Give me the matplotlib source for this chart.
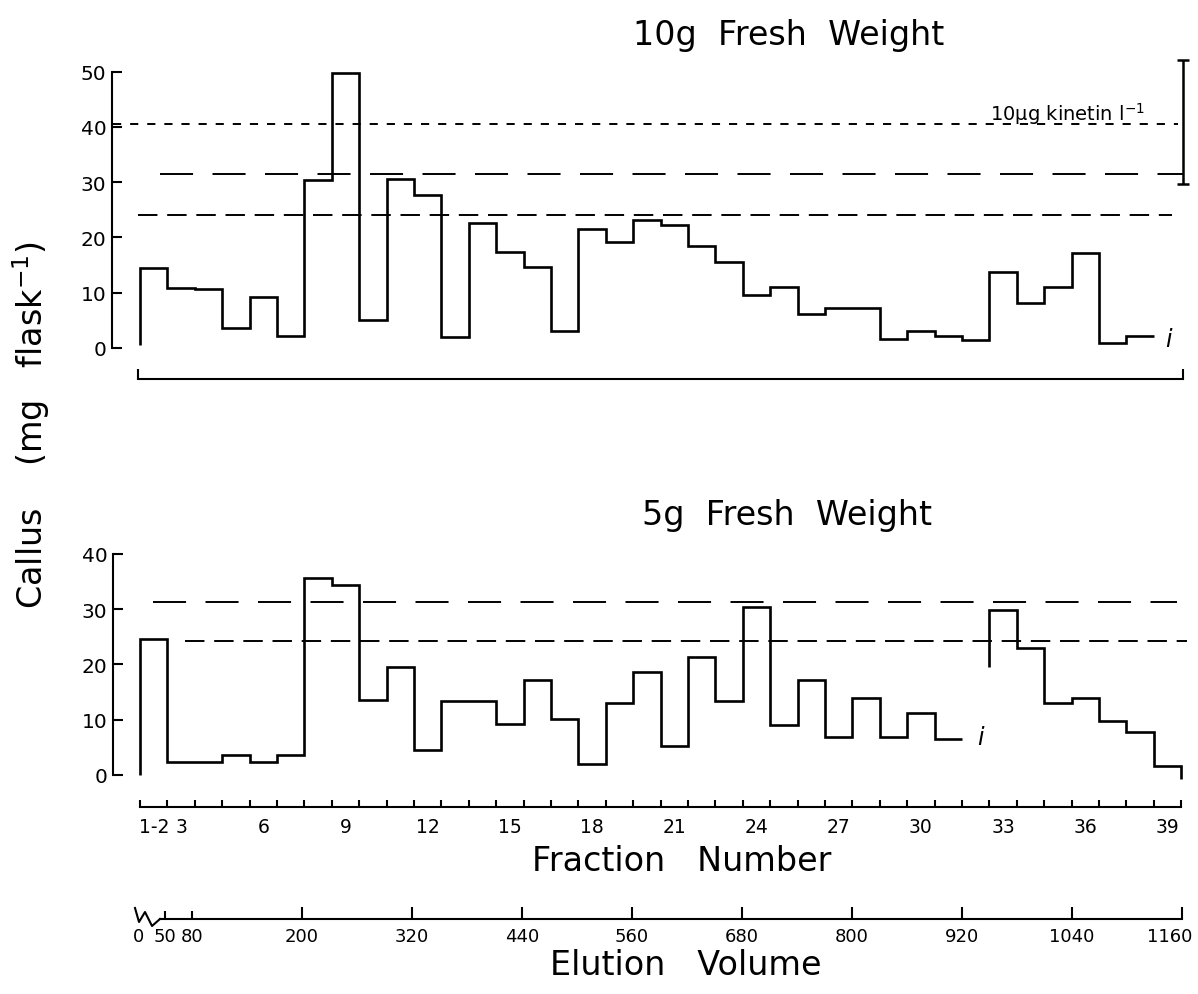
import matplotlib
matplotlib.use("Agg")
import matplotlib.pyplot as plt
import numpy as np
from matplotlib.ticker import FixedLocator, FixedFormatter, NullFormatter
from matplotlib.transforms import ScaledTranslation

# fractions off the column: 1 and 2 pooled, then 3 ... 39
fractions = ["1-2"] + [str(n) for n in range(3, 40)]
fraction_ticklabels = ["1-2", "3", "6", "9", "12", "15", "18", "21",
                       "24", "27", "30", "33", "36", "39"]

# callus yield (mg flask-1) per fraction, None = not plotted
callus_10g = [14.4, 10.9, 10.7, 3.7, 9.3, 2.2, 30.3, 49.7, 5.1, 30.6,
              27.7, 1.9, 22.6, 17.4, 14.6, 3.1, 21.5, 19.2, 23.2, 22.2,
              18.4, 15.6, 9.5, 11.1, 6.1, 7.2, 7.2, 1.6, 3.0, 2.1,
              1.4, 13.8, 8.1, 11.0, 17.1, 0.9, 2.2, None]
callus_5g = [24.6, 2.3, 2.3, 3.7, 2.3, 3.6, 35.7, 34.4, 13.6, 19.6,
             4.6, 13.4, 13.4, 9.3, 17.2, 10.2, 1.9, 13.1, 18.6, 5.2,
             21.3, 13.4, 30.4, 9.0, 17.1, 6.8, 13.9, 6.9, 11.2, 6.6,
             None, 29.9, 22.9, 13.0, 13.9, 9.7, 7.7, 1.7]

# where each run of the histogram starts from / drops to
run_start_10g = [0.5]
run_stop_10g = [None]
run_start_5g = [0.0, 19.5]
run_stop_5g = [None, -0.8]

# reference levels
kinetin_10g = 40.5
kinetin_sd = (40.85, 11.15)
control_long_10g = 31.5
control_short_10g = 24.0
control_long_5g = 31.2
control_short_5g = 24.3

elution_major = [200, 320, 440, 560, 680, 800, 920, 1040, 1160]
elution_minor = [50, 80]

# ---- layout (pixels of the 1198x995 picture) ----
W, H = 1198, 995
BIN0, BINW = 140.0, 27.4      # left edge of fraction "1-2", width of one fraction
MGPX = 5.53                   # pixels per mg
ZERO_TOP, ZERO_BOT = 349, 776
VOL0, VOLPX = 118.7, 0.9167   # elution volume -> pixel
FONT = "DejaVu Sans"
BIG = 24
LW = 1.9

fig = plt.figure(figsize=(W / 100, H / 100), dpi=100)


def add_ax(x0, y0, x1, y1):
    return fig.add_axes([x0 / W, 1 - y1 / H, (x1 - x0) / W, (y1 - y0) / H])


def u(px):
    return (px - BIN0) / BINW


def vol(px):
    return (px - VOL0) / VOLPX


def draw_runs(ax, values, starts, stops):
    runs, a = [], None
    for i, v in enumerate(values + [None]):
        if v is not None and a is None:
            a = i
        elif v is None and a is not None:
            runs.append((a, i))
            a = None
    for (a, b), s0, s1 in zip(runs, starts, stops):
        vals = np.array(values[a:b], dtype=float)
        edges = np.arange(a, b + 1)
        xs = np.concatenate([[a], np.repeat(edges, 2)[1:-1]])
        ys = np.concatenate([[s0], np.repeat(vals, 2)])
        if s1 is not None:
            xs = np.append(xs, b)
            ys = np.append(ys, s1)
        ax.plot(xs, ys, color="black", lw=LW, solid_joinstyle="miter",
                solid_capstyle="butt")


def style_left(ax, spine_px, top):
    for s in ("top", "right"):
        ax.spines[s].set_visible(False)
    ax.spines["left"].set_position(("data", u(spine_px)))
    ax.spines["left"].set_bounds(0, top)
    ax.spines["left"].set_linewidth(1.5)
    ax.set_yticks(np.arange(0, top + 1, 10))
    ax.tick_params(axis="y", direction="in", length=7, width=1.5,
                   labelsize=14.5, pad=4)


def hline(ax, y, px0, px1, dashes):
    ax.plot([u(px0), u(px1)], [y, y], color="black", lw=1.4,
            dashes=dashes, dash_capstyle="butt")


# ---- 10 g fresh weight ----
ax1 = add_ax(100, 55, 1195, 395)
ax1.set_xlim(u(100), u(1195))
ax1.set_ylim((ZERO_TOP - 395) / MGPX, (ZERO_TOP - 55) / MGPX)
style_left(ax1, 112, 50)
ax1.spines["bottom"].set_position(("data", (ZERO_TOP - 380) / MGPX))
ax1.spines["bottom"].set_bounds(u(138), u(1183))
ax1.spines["bottom"].set_linewidth(1.5)
ax1.set_xticks([u(138), u(1183)])
ax1.xaxis.set_major_formatter(NullFormatter())
ax1.tick_params(axis="x", direction="in", length=7, width=1.5)

draw_runs(ax1, callus_10g, run_start_10g, run_stop_10g)
hline(ax1, kinetin_10g, 113, 1178, (4.2, 4.6))
hline(ax1, control_long_10g, 160, 1183, (17, 10))
hline(ax1, control_short_10g, 138, 1172, (10, 5))
ax1.errorbar([u(1183)], [kinetin_sd[0]], yerr=[kinetin_sd[1]], color="black",
             elinewidth=1.8, capsize=4, capthick=1.8, fmt="none")
ax1.text(u(990), (ZERO_TOP - 121) / MGPX, "10µg kinetin l$^{-1}$",
         fontsize=14, family=FONT, ha="left", va="baseline")
ax1.text(u(1168), 1.6, "i", fontsize=17, style="italic", ha="center",
         va="center", family=FONT)

# ---- 5 g fresh weight ----
ax2 = add_ax(100, 540, 1195, 815)
ax2.set_xlim(u(100), u(1195))
ax2.set_ylim((ZERO_BOT - 815) / MGPX, (ZERO_BOT - 540) / MGPX)
style_left(ax2, 113, 40)
ax2.spines["bottom"].set_position(("data", (ZERO_BOT - 808) / MGPX))
ax2.spines["bottom"].set_bounds(0, len(fractions))
ax2.spines["bottom"].set_linewidth(1.5)
ax2.xaxis.set_minor_locator(FixedLocator(np.arange(len(fractions) + 1)))
ax2.xaxis.set_major_locator(
    FixedLocator([fractions.index(t) + 0.5 for t in fraction_ticklabels]))
ax2.xaxis.set_major_formatter(FixedFormatter(fraction_ticklabels))
ax2.tick_params(axis="x", which="minor", direction="in", length=5, width=1.5)
ax2.tick_params(axis="x", which="major", length=0, labelsize=13.5, pad=7)

draw_runs(ax2, callus_5g, run_start_5g, run_stop_5g)
hline(ax2, control_long_5g, 153, 1177, (17, 10))
hline(ax2, control_short_5g, 185, 1187, (10, 5))
ax2.text(u(980), 6.9, "i", fontsize=17, style="italic", ha="center",
         va="center", family=FONT)
ax2.set_xlabel("Fraction   Number", fontsize=BIG, family=FONT)
ax2.xaxis.set_label_coords((682 - 100) / 1095, (815 - 845) / 275)
ax2.xaxis.label.set_va("top")

# ---- elution volume scale ----
ax3 = add_ax(100, 895, 1195, 945)
ax3.set_xlim(vol(100), vol(1195))
ax3.set_ylim(0, 50)
for s in ("top", "right", "left"):
    ax3.spines[s].set_visible(False)
ax3.set_yticks([])
ax3.spines["bottom"].set_position(("data", 25))
ax3.spines["bottom"].set_bounds(vol(160), elution_major[-1])
ax3.spines["bottom"].set_linewidth(1.5)
ax3.set_xticks(elution_major)
ax3.set_xticks(elution_minor, minor=True)
ax3.xaxis.set_minor_formatter(FixedFormatter([str(v) for v in elution_minor]))
ax3.tick_params(axis="x", which="major", direction="in", length=8.5,
                width=1.5, labelsize=13, pad=6)
ax3.tick_params(axis="x", which="minor", direction="in", length=5.5,
                width=1.5, labelsize=13, pad=6)
# last label sits against the right edge, as in the original
last = ax3.xaxis.get_major_ticks()[-1].label1
last.set_transform(last.get_transform()
                   + ScaledTranslation(-12 / 100, 0, fig.dpi_scale_trans))
zig_px = [(135, 909), (139, 923), (145, 913), (152, 927), (160, 920)]
ax3.plot([vol(x) for x, _ in zig_px], [945 - y for _, y in zig_px],
         color="black", lw=1.5)
ax3.text(vol(139), 25 - 8.3, "0", fontsize=13, ha="center", va="top",
         family=FONT)
ax3.set_xlabel("Elution   Volume", fontsize=BIG, family=FONT)
ax3.xaxis.set_label_coords((686 - 100) / 1095, (945 - 949) / 50)
ax3.xaxis.label.set_va("top")

# ---- titles and shared y label ----
fig.text(633 / W, 1 - 45 / H, "10g  Fresh  Weight", fontsize=BIG,
         family=FONT, ha="left", va="baseline")
fig.text(642 / W, 1 - 525 / H, "5g  Fresh  Weight", fontsize=BIG,
         family=FONT, ha="left", va="baseline")
fig.text(31 / W, 1 - 425 / H, "Callus    (mg   flask$^{-1}$)", fontsize=BIG,
         family=FONT, rotation=90, ha="center", va="center")

fig.savefig("out.png", dpi=100)
